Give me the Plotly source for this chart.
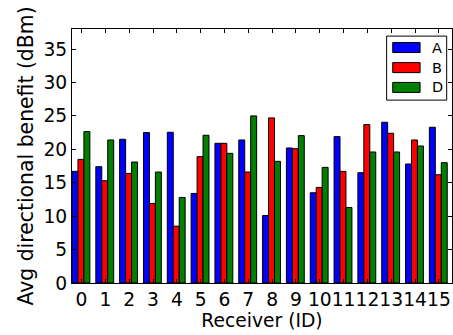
import plotly.graph_objects as go

receivers = list(range(16))
tick_labels = [str(r) for r in receivers]
series_names = ["A", "B", "D"]
values_A = [16.7, 17.4, 21.5, 22.5, 22.55, 13.4, 20.9, 21.4, 10.1, 20.2, 13.5, 21.9, 16.5, 24.05, 17.8, 23.3]
values_B = [18.5, 15.3, 16.4, 11.9, 8.5, 18.9, 20.9, 16.6, 24.7, 20.1, 14.3, 16.7, 23.7, 22.4, 21.4, 16.2]
values_D = [22.65, 21.4, 18.1, 16.6, 12.8, 22.1, 19.4, 25.0, 18.2, 22.05, 17.3, 11.3, 19.6, 19.6, 20.5, 18.0]
colors = ["#0000ff", "#ff0000", "#007f00"]

bar_w = 0.25
fig = go.Figure()
for k, (name, vals) in enumerate(zip(series_names, [values_A, values_B, values_D])):
    fig.add_trace(go.Bar(
        x=receivers, y=vals, name=name,
        width=bar_w, offset=k * bar_w,
        marker=dict(color=colors[k], line=dict(color="black", width=1)),
        showlegend=False,
    ))

# Matplotlib-style legend (wide patches) drawn in paper coordinates
leg_box = dict(x0=0.828, x1=0.986, y0=0.720, y1=0.972)
fig.add_shape(type="rect", xref="paper", yref="paper", **leg_box,
              line=dict(color="black", width=1), fillcolor="white", layer="above")
row_y = [0.927, 0.848, 0.770]
for k, name in enumerate(series_names):
    fig.add_shape(type="rect", xref="paper", yref="paper",
                  x0=0.844, x1=0.916, y0=row_y[k] - 0.0197, y1=row_y[k] + 0.0197,
                  line=dict(color="black", width=1), fillcolor=colors[k], layer="above")
    fig.add_annotation(x=0.941, y=row_y[k], xref="paper", yref="paper",
                       text=name, showarrow=False, xanchor="left", yanchor="middle",
                       font=dict(size=14.5, color="black"))

font_family = "DejaVu Sans"
fig.update_layout(
    width=453, height=335,
    margin=dict(l=72, r=1, t=29, b=52, autoexpand=False),
    barmode="overlay",
    paper_bgcolor="white", plot_bgcolor="white",
    font=dict(family=font_family, size=18.7, color="black"),
)
fig.update_xaxes(
    range=[0, 15.95],
    tickvals=[r + 0.4 for r in receivers], ticktext=tick_labels,
    tickangle=0,
    ticks="inside", ticklen=4, tickcolor="black",
    showline=True, linecolor="black", linewidth=1, mirror="ticks",
    showgrid=False, zeroline=False,
    tickfont=dict(size=18.7),
    title=dict(text="Receiver (ID)", font=dict(size=18.7), standoff=0),
)
fig.update_yaxes(
    range=[0, 38], tickvals=[0, 5, 10, 15, 20, 25, 30, 35],
    ticks="inside", ticklen=4, tickcolor="black",
    showline=True, linecolor="black", linewidth=1, mirror="ticks",
    showgrid=False, zeroline=False,
    tickfont=dict(size=18.7),
    title=dict(text="Avg directional benefit (dBm)", font=dict(size=20.4), standoff=4),
)
fig.write_html("out.html", config={"displayModeBar": False},
               post_script="document.body.style.margin='0';")
